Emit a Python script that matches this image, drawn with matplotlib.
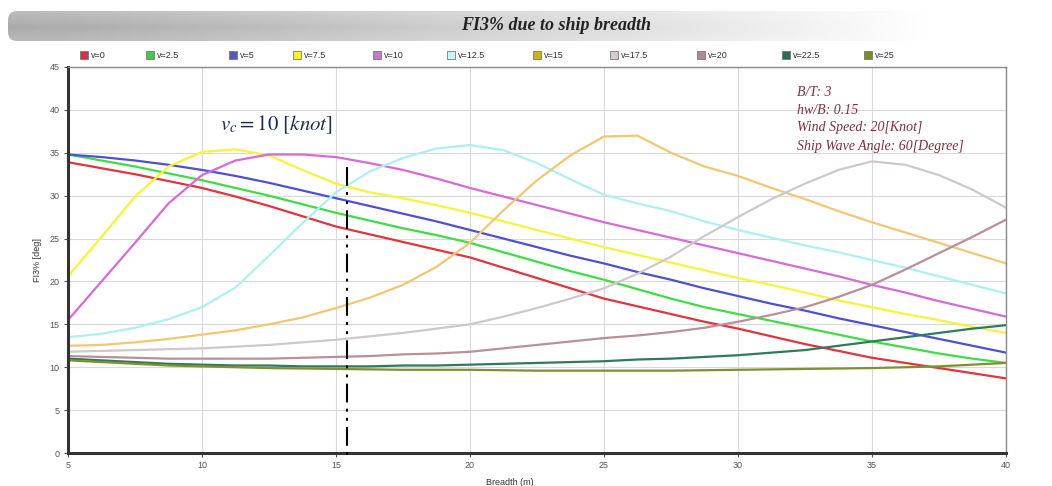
import numpy as np
import matplotlib
matplotlib.use("Agg")
import matplotlib.pyplot as plt
from matplotlib.patches import FancyBboxPatch, Rectangle

plt.rcParams['font.family'] = ['Liberation Sans', 'DejaVu Sans']
plt.rcParams['mathtext.fontset'] = 'stix'

# Ship breadth [m]
breadth = [5, 6.25, 7.5, 8.75, 10, 11.25, 12.5, 13.75, 15, 16.25, 17.5, 18.75, 20,
           21.25, 22.5, 23.75, 25, 26.25, 27.5, 28.75, 30, 31.25, 32.5, 33.75, 35,
           36.25, 37.5, 38.75, 40]

# FI3% [deg] for each current speed v
fi_v0 = [33.9, 33.2, 32.5, 31.7, 30.9, 29.9, 28.8, 27.6, 26.4, 25.5, 24.6, 23.7, 22.8,
         21.6, 20.4, 19.2, 18.0, 17.1, 16.2, 15.3, 14.5, 13.6, 12.7, 11.9, 11.1,
         10.5, 9.9, 9.3, 8.7]
fi_v2_5 = [34.8, 34.1, 33.4, 32.6, 31.8, 30.9, 30.0, 29.0, 28.0, 27.1, 26.2, 25.4, 24.5,
           23.4, 22.3, 21.2, 20.2, 19.1, 18.0, 17.0, 16.2, 15.4, 14.6, 13.8, 13.0,
           12.3, 11.6, 11.0, 10.5]
fi_v5 = [34.8, 34.5, 34.1, 33.6, 33.0, 32.3, 31.5, 30.6, 29.7, 28.8, 27.9, 27.0, 26.0,
         25.0, 24.0, 23.0, 22.1, 21.1, 20.2, 19.2, 18.3, 17.4, 16.6, 15.7, 14.9,
         14.1, 13.3, 12.5, 11.7]
fi_v7_5 = [20.6, 25.2, 29.9, 33.4, 35.1, 35.4, 34.7, 33.0, 31.4, 30.4, 29.7, 28.9, 28.0,
           27.0, 26.0, 25.0, 24.0, 23.1, 22.2, 21.3, 20.4, 19.6, 18.7, 17.8, 17.0,
           16.2, 15.5, 14.7, 14.0]
fi_v10 = [15.5, 20.0, 24.5, 29.1, 32.4, 34.1, 34.8, 34.8, 34.5, 33.8, 33.0, 32.0, 30.9,
          29.9, 28.9, 27.9, 26.9, 26.0, 25.1, 24.2, 23.3, 22.4, 21.5, 20.6, 19.6,
          18.7, 17.7, 16.8, 15.9]
fi_v12_5 = [13.5, 13.9, 14.6, 15.6, 17.0, 19.3, 23.0, 26.8, 30.4, 32.8, 34.4, 35.5, 35.9,
            35.3, 33.8, 31.9, 30.1, 29.1, 28.2, 27.0, 26.0, 25.1, 24.2, 23.4, 22.5,
            21.6, 20.6, 19.6, 18.6]
fi_v15 = [12.5, 12.6, 12.9, 13.3, 13.8, 14.3, 15.0, 15.8, 16.9, 18.1, 19.6, 21.7, 24.5,
          28.3, 31.8, 34.7, 36.9, 37.0, 35.0, 33.4, 32.3, 30.9, 29.6, 28.2, 26.9,
          25.7, 24.5, 23.3, 22.1]
fi_v17_5 = [11.8, 11.9, 12.0, 12.1, 12.2, 12.4, 12.6, 12.9, 13.2, 13.6, 14.0, 14.5, 15.0,
            15.9, 16.9, 18.0, 19.2, 20.9, 22.9, 25.3, 27.5, 29.6, 31.4, 33.0, 34.0,
            33.6, 32.4, 30.7, 28.6]
fi_v20 = [11.3, 11.2, 11.1, 11.0, 11.0, 11.0, 11.0, 11.1, 11.2, 11.3, 11.5, 11.6, 11.8,
          12.2, 12.6, 13.0, 13.4, 13.7, 14.1, 14.6, 15.3, 16.1, 17.0, 18.2, 19.6,
          21.4, 23.3, 25.2, 27.2]
fi_v22_5 = [11.0, 10.8, 10.6, 10.4, 10.3, 10.2, 10.2, 10.1, 10.1, 10.1, 10.2, 10.2, 10.3,
            10.4, 10.5, 10.6, 10.7, 10.9, 11.0, 11.2, 11.4, 11.7, 12.0, 12.5, 13.0,
            13.5, 14.0, 14.5, 14.9]
fi_v25 = [10.8, 10.6, 10.4, 10.2, 10.1, 10.0, 9.9, 9.85, 9.8, 9.75, 9.7, 9.7, 9.7,
          9.65, 9.6, 9.6, 9.6, 9.6, 9.6, 9.65, 9.7, 9.75, 9.8, 9.85, 9.9,
          10.0, 10.1, 10.3, 10.5]

series_labels = ['v=0', 'v=2.5', 'v=5', 'v=7.5', 'v=10', 'v=12.5', 'v=15',
                 'v=17.5', 'v=20', 'v=22.5', 'v=25']
series_values = [fi_v0, fi_v2_5, fi_v5, fi_v7_5, fi_v10, fi_v12_5, fi_v15,
                 fi_v17_5, fi_v20, fi_v22_5, fi_v25]
line_colors = ['#e2343f', '#3fdc46', '#4f4fd6', '#f6f43a', '#d86ad8', '#aef0ee',
               '#f2c673', '#cfc8c8', '#b98f9a', '#2f7a5a', '#7f9030']
swatch_colors = ['#d8304a', '#46c64a', '#5656c4', '#f2f040', '#c878c8', '#c8f4f2',
                 '#c8b428', '#d4cccc', '#b48894', '#2c6c50', '#7c8a30']

current_speed_breadth = 15.4   # breadth marked for v_c = 10 knot
marker_top = 33.4

W, H = 1052, 486
fig = plt.figure(figsize=(W / 100, H / 100), dpi=100)
fig.patch.set_facecolor('white')

# ---- header bar with gradient ----
hx0, hy_top, hy_bot = 8, 11, 41
hax = fig.add_axes([hx0 / W, 1 - hy_bot / H, (W - hx0) / W, (hy_bot - hy_top) / H])
hw, hh = W - hx0, hy_bot - hy_top
hax.set_xlim(0, hw)
hax.set_ylim(0, hh)
hax.axis('off')
gx = np.linspace(0, 1, 400)
gy = np.linspace(0, 1, 60)
horiz = np.clip(0.64 + 0.36 * (gx / 0.88) ** 1.2, 0, 1)
shade = 1 - np.outer(0.92 - 0.35 * np.abs(gy - 0.45), 1 - horiz)
img = hax.imshow(np.dstack([shade] * 3), extent=[0, hw, 0, hh], aspect='auto',
                 origin='lower', interpolation='bilinear')
clip_box = FancyBboxPatch((0, 0), hw + 20, hh, boxstyle='round,pad=0,rounding_size=9',
                          transform=hax.transData, facecolor='none', edgecolor='none')
hax.add_patch(clip_box)
img.set_clip_path(clip_box)
hax.text(556 - hx0, hh / 2 + 1, 'FI3% due to ship breadth', ha='center', va='center',
         fontsize=13, fontweight='bold', fontstyle='italic', color='#222222',
         family=['Liberation Serif', 'DejaVu Serif'])

# ---- main plot ----
left_px, right_px, top_px, bottom_px = 68, 1006, 67, 453
ax = fig.add_axes([left_px / W, 1 - bottom_px / H, (right_px - left_px) / W,
                   (bottom_px - top_px) / H])
for vals, col in zip(series_values, line_colors):
    ax.plot(breadth, vals, color=col, lw=1.6, solid_capstyle='round',
            solid_joinstyle='round')

ax.plot([current_speed_breadth, current_speed_breadth], [marker_top, -0.8],
        color='black', lw=1.5, dashes=[9, 3, 1.4, 3, 1.4, 3], clip_on=False, zorder=5)

ax.set_xlim(5, 40)
ax.set_ylim(0, 45)
ax.set_xticks(np.arange(5, 41, 5))
ax.set_yticks(np.arange(0, 46, 5))
ax.grid(True, color='#d9d9d9', lw=0.8)
ax.set_axisbelow(True)
for side in ('left', 'bottom'):
    ax.spines[side].set_linewidth(2.2)
    ax.spines[side].set_color('#333333')
for side in ('top', 'right'):
    ax.spines[side].set_linewidth(1.0)
    ax.spines[side].set_color('#8a8a8a')
ax.tick_params(labelsize=6.5, colors='#555555', length=3, width=0.8, pad=3)

fig.text(220 / W, 1 - 125 / H, r'$v_c = 10\ [knot]$', fontsize=15,
         color='#1d2b4a', va='center', ha='left')

info_lines = ['B/T: 3', 'hw/B: 0.15', 'Wind Speed: 20[Knot]', 'Ship Wave Angle: 60[Degree]']
for i, line in enumerate(info_lines):
    fig.text(797 / W, 1 - (92 + 18 * i) / H, line, ha='left', va='center', fontsize=10,
             fontstyle='italic', color='#7a3040', family=['Liberation Serif', 'DejaVu Serif'])

fig.text(37 / W, 1 - 260 / H, 'FI3% [deg]', rotation=90, ha='center', va='center',
         fontsize=6.5, color='#333333')
fig.text(510 / W, 1 - 482 / H, 'Breadth (m)', ha='center', va='center',
         fontsize=6.5, color='#333333')

# ---- legend row ----
swatch_x = [84, 150, 233, 297, 377, 451, 537, 614, 701, 786, 868]
lax = fig.add_axes([0, 0, 1, 1])
lax.set_xlim(0, W)
lax.set_ylim(H, 0)
lax.axis('off')
for sx, lab, fc in zip(swatch_x, series_labels, swatch_colors):
    lax.add_patch(Rectangle((sx - 4, 51), 8, 8, facecolor=fc, edgecolor='#777777', lw=0.6))
    lax.text(sx + 7, 55, lab, ha='left', va='center', fontsize=6.5, color='#333333')

fig.savefig('out.png', dpi=100)
